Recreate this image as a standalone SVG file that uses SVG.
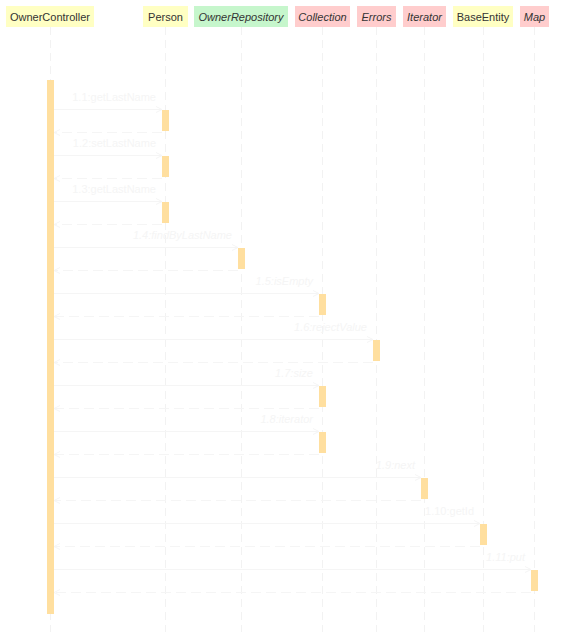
<svg xmlns="http://www.w3.org/2000/svg" width="586" height="632" viewBox="0 0 586 632">
<style>
.hd{font-family:"Liberation Sans",Arial,sans-serif;font-size:11px;fill:#333333;text-anchor:middle}
.it{font-style:italic}
.yel{fill:#ffffc3}
.grn{fill:#c6f6cc}
.red{fill:#ffcdcd}
.life{stroke:#f2f2f2;stroke-width:1;stroke-dasharray:8,5;fill:none}
.act{fill:#ffdf9f}
.call{stroke:#f5f5f5;stroke-width:1;fill:none;marker-end:url(#open)}
.ret{stroke:#f5f5f5;stroke-width:1;fill:none;stroke-dasharray:10,5;marker-end:url(#open)}
.lbl{font-family:"Liberation Sans",Arial,sans-serif;font-size:11px;fill:#f5f5f5;text-anchor:end}
</style>
<defs>
<marker id="open" viewBox="0 0 8 8" refX="7" refY="4" markerWidth="8" markerHeight="8" markerUnits="userSpaceOnUse" orient="auto">
<path d="M1,1 L7,4 L1,7" fill="none" stroke="#f5f5f5" stroke-width="1"/>
</marker>
</defs>
<rect width="586" height="632" fill="#ffffff"/>

<g id="OwnerController">
<rect class="yel" x="6" y="6" width="88" height="21"/>
<text class="hd" x="50" y="20.5">OwnerController</text>
<line class="life" x1="50.5" y1="27" x2="50.5" y2="632"/>
<rect class="act" x="47" y="80" width="7" height="534"/>
</g>
<g id="Person">
<rect class="yel" x="143" y="6" width="45" height="21"/>
<text class="hd" x="165.5" y="20.5">Person</text>
<line class="life" x1="165.5" y1="27" x2="165.5" y2="632"/>
<rect class="act" x="162" y="110" width="7" height="21"/>
<rect class="act" x="162" y="156" width="7" height="21"/>
<rect class="act" x="162" y="202" width="7" height="21"/>
</g>
<g id="OwnerRepository">
<rect class="grn" x="194" y="6" width="94" height="21"/>
<text class="hd it" x="241" y="20.5">OwnerRepository</text>
<line class="life" x1="241.5" y1="27" x2="241.5" y2="632"/>
<rect class="act" x="238" y="248" width="7" height="21"/>
</g>
<g id="Collection">
<rect class="red" x="295" y="6" width="55" height="21"/>
<text class="hd it" x="322.5" y="20.5">Collection</text>
<line class="life" x1="322.5" y1="27" x2="322.5" y2="632"/>
<rect class="act" x="319" y="294" width="7" height="21"/>
<rect class="act" x="319" y="386" width="7" height="21"/>
<rect class="act" x="319" y="432" width="7" height="21"/>
</g>
<g id="Errors">
<rect class="red" x="357" y="6" width="39" height="21"/>
<text class="hd it" x="376.5" y="20.5">Errors</text>
<line class="life" x1="376.5" y1="27" x2="376.5" y2="632"/>
<rect class="act" x="373" y="340" width="7" height="21"/>
</g>
<g id="Iterator">
<rect class="red" x="403" y="6" width="43" height="21"/>
<text class="hd it" x="424.5" y="20.5">Iterator</text>
<line class="life" x1="424.5" y1="27" x2="424.5" y2="632"/>
<rect class="act" x="421" y="478" width="7" height="21"/>
</g>
<g id="BaseEntity">
<rect class="yel" x="453" y="6" width="60" height="21"/>
<text class="hd" x="483" y="20.5">BaseEntity</text>
<line class="life" x1="483.5" y1="27" x2="483.5" y2="632"/>
<rect class="act" x="480" y="524" width="7" height="21"/>
</g>
<g id="Map">
<rect class="red" x="520" y="6" width="29" height="21"/>
<text class="hd it" x="534.5" y="20.5">Map</text>
<line class="life" x1="534.5" y1="27" x2="534.5" y2="632"/>
<rect class="act" x="531" y="570" width="7" height="21"/>
</g>

<g id="connectors">
<text class="lbl" x="156" y="101">1.1:getLastName</text>
<line class="call" x1="54" y1="109.5" x2="162" y2="109.5"/>
<line class="ret" x1="162" y1="132.5" x2="54" y2="132.5"/>

<text class="lbl" x="156" y="147">1.2:setLastName</text>
<line class="call" x1="54" y1="155.5" x2="162" y2="155.5"/>
<line class="ret" x1="162" y1="178.5" x2="54" y2="178.5"/>

<text class="lbl" x="156" y="193">1.3:getLastName</text>
<line class="call" x1="54" y1="201.5" x2="162" y2="201.5"/>
<line class="ret" x1="162" y1="224.5" x2="54" y2="224.5"/>

<text class="lbl it" x="232" y="239">1.4:findByLastName</text>
<line class="call" x1="54" y1="247.5" x2="238" y2="247.5"/>
<line class="ret" x1="238" y1="270.5" x2="54" y2="270.5"/>

<text class="lbl it" x="313" y="285">1.5:isEmpty</text>
<line class="call" x1="54" y1="293.5" x2="319" y2="293.5"/>
<line class="ret" x1="319" y1="316.5" x2="54" y2="316.5"/>

<text class="lbl it" x="367" y="331">1.6:rejectValue</text>
<line class="call" x1="54" y1="339.5" x2="373" y2="339.5"/>
<line class="ret" x1="373" y1="362.5" x2="54" y2="362.5"/>

<text class="lbl it" x="313" y="377">1.7:size</text>
<line class="call" x1="54" y1="385.5" x2="319" y2="385.5"/>
<line class="ret" x1="319" y1="408.5" x2="54" y2="408.5"/>

<text class="lbl it" x="313" y="423">1.8:iterator</text>
<line class="call" x1="54" y1="431.5" x2="319" y2="431.5"/>
<line class="ret" x1="319" y1="454.5" x2="54" y2="454.5"/>

<text class="lbl it" x="415" y="469">1.9:next</text>
<line class="call" x1="54" y1="477.5" x2="421" y2="477.5"/>
<line class="ret" x1="421" y1="500.5" x2="54" y2="500.5"/>

<text class="lbl" x="474" y="515">1.10:getId</text>
<line class="call" x1="54" y1="523.5" x2="480" y2="523.5"/>
<line class="ret" x1="480" y1="546.5" x2="54" y2="546.5"/>

<text class="lbl it" x="525" y="561">1.11:put</text>
<line class="call" x1="54" y1="569.5" x2="531" y2="569.5"/>
<line class="ret" x1="531" y1="592.5" x2="54" y2="592.5"/>
</g>
</svg>
